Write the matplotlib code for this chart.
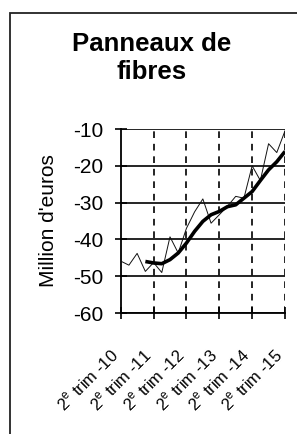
import matplotlib
matplotlib.use("Agg")
import matplotlib.pyplot as plt
import matplotlib.transforms as mtransforms
from matplotlib.patches import Rectangle

plt.rcParams['font.family'] = ['Liberation Sans', 'DejaVu Sans']
plt.rcParams['mathtext.fontset'] = 'custom'
plt.rcParams['mathtext.rm'] = 'Liberation Sans'

# Data (quarterly, 2e trim 2010 .. 2e trim 2015)
quarters = list(range(21))
monthly_values = [-45.9, -47.0, -43.8, -48.7, -46.3, -49.0, -39.3, -43.7, -37.0, -32.5,
                  -29.0, -35.6, -33.3, -31.0, -28.3, -28.8, -20.0, -24.0, -14.0, -16.4, -10.5]
trend_quarters = list(range(3, 21))
trend_values = [-46.0, -46.4, -46.6, -45.5, -43.7, -41.0, -37.8, -35.1, -33.3, -32.4,
                -31.1, -30.6, -28.8, -27.0, -24.0, -21.1, -18.9, -16.1]
tick_positions = [0, 4, 8, 12, 16, 20]
tick_labels = [r"2$^{\mathrm{e}}$ trim -10", r"2$^{\mathrm{e}}$ trim -11", r"2$^{\mathrm{e}}$ trim -12",
               r"2$^{\mathrm{e}}$ trim -13", r"2$^{\mathrm{e}}$ trim -14", r"2$^{\mathrm{e}}$ trim -15"]
y_ticks = [-60, -50, -40, -30, -20, -10]
title = "Panneaux de\nfibres"
ylabel = "Million d'euros"

W, H = 297, 434
fig = plt.figure(figsize=(W / 100, H / 100), dpi=100)
fig.patch.set_facecolor('white')

# outer frame
fig.add_artist(Rectangle((10 / W, -0.05), 1.2, 1 - 13 / H + 0.05, transform=fig.transFigure,
                         fill=False, edgecolor='#222222', linewidth=1.3))

ax = fig.add_axes([120.7 / W, 1 - 313 / H, (285 - 120.7) / W, (313 - 129) / H])
ax.set_xlim(0, 20)
ax.set_ylim(-60, -10)

for y in y_ticks:
    ax.axhline(y, color='black', linewidth=1.2, zorder=1)
for x in tick_positions[1:]:
    ax.axvline(x, color='black', linewidth=1.2, dashes=(4, 3.5), zorder=1)

ax.plot(quarters, monthly_values, color='#111111', linewidth=0.7, zorder=3)
ax.plot(trend_quarters, trend_values, color='black', linewidth=2.6, zorder=4,
        solid_capstyle='butt')

for s in ['top', 'right']:
    ax.spines[s].set_visible(False)
ax.spines['left'].set_linewidth(1.3)
ax.spines['bottom'].set_linewidth(1.3)

ax.set_yticks(y_ticks)
ax.set_yticklabels([str(v) for v in y_ticks], fontsize=15)
ax.set_xticks(tick_positions)
ax.set_xticklabels(tick_labels, fontsize=12, rotation=45, ha='right', va='top',
                   rotation_mode='anchor')
ax.tick_params(axis='both', direction='inout', length=9, width=1.2, color='black')
ax.tick_params(axis='y', pad=8)
ax.tick_params(axis='x', pad=19)
offset = mtransforms.ScaledTranslation(-12 / 100, 0, fig.dpi_scale_trans)
for lab in ax.get_xticklabels():
    lab.set_transform(lab.get_transform() + offset)

fig.text(48 / W, 1 - 221 / H, ylabel, rotation=90, ha='center', va='center', fontsize=15)
fig.text(152 / W, 1 - 58 / H, title, ha='center', va='center', fontsize=18.5,
         fontweight='bold', linespacing=1.2)

fig.savefig("out.png", dpi=100, facecolor='white')
